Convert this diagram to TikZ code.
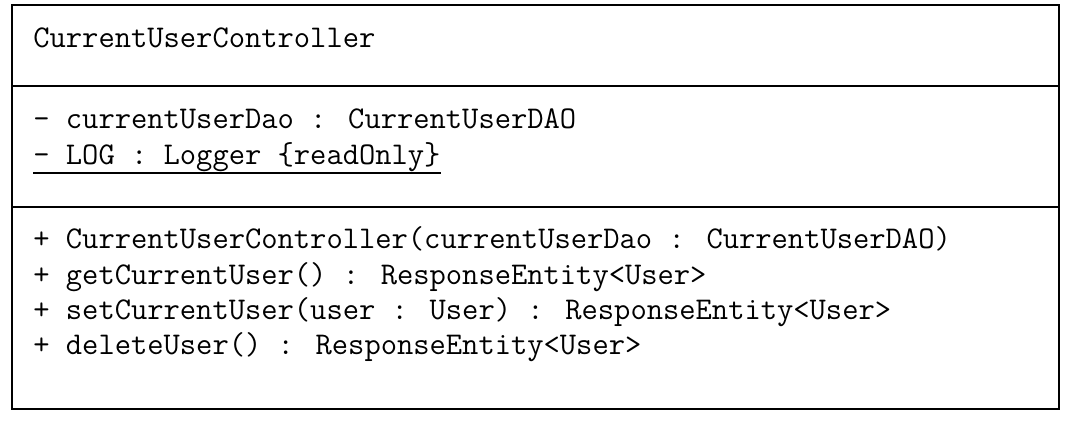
\documentclass[tikz,border=0pt]{standalone}
\usepackage{fontspec}
\usepackage{tikz}

\tikzset{
  umltext/.style={anchor=base west, inner sep=0pt, font=\ttfamily\fontsize{18pt}{21pt}\selectfont},
  umlframe/.style={line width=1.15pt}
}

\begin{document}
\begin{tikzpicture}[x=0.02cm, y=-0.02cm]
  \useasboundingbox (0,0) rectangle (1070,426);

  % Cadre et compartiments
  \draw[umlframe] (12,5) rectangle (1059,409);
  \draw[umlframe] (12,86) -- (1059,86);
  \draw[umlframe] (12,207) -- (1059,207);

  % Nom
  \node[umltext] (classname) at (33,47) {CurrentUserController};

  % Attributs
  \node[umltext] (attrdao) at (33,128) {- currentUserDao : CurrentUserDAO};
  \node[umltext] (attrlog) at (33,164) {- LOG : Logger \{readOnly\}};
  \draw[line width=0.6pt] ([yshift=-0.18cm]attrlog.base west) -- ([yshift=-0.18cm]attrlog.base east);

  % Opérations
  \node[umltext] (opctor) at (33,248) {+ CurrentUserController(currentUserDao : CurrentUserDAO)};
  \node[umltext] (opget) at (33,284) {+ getCurrentUser() : ResponseEntity<User>};
  \node[umltext] (opset) at (33,319) {+ setCurrentUser(user : User) : ResponseEntity<User>};
  \node[umltext] (opdel) at (33,354) {+ deleteUser() : ResponseEntity<User>};
\end{tikzpicture}
\end{document}
